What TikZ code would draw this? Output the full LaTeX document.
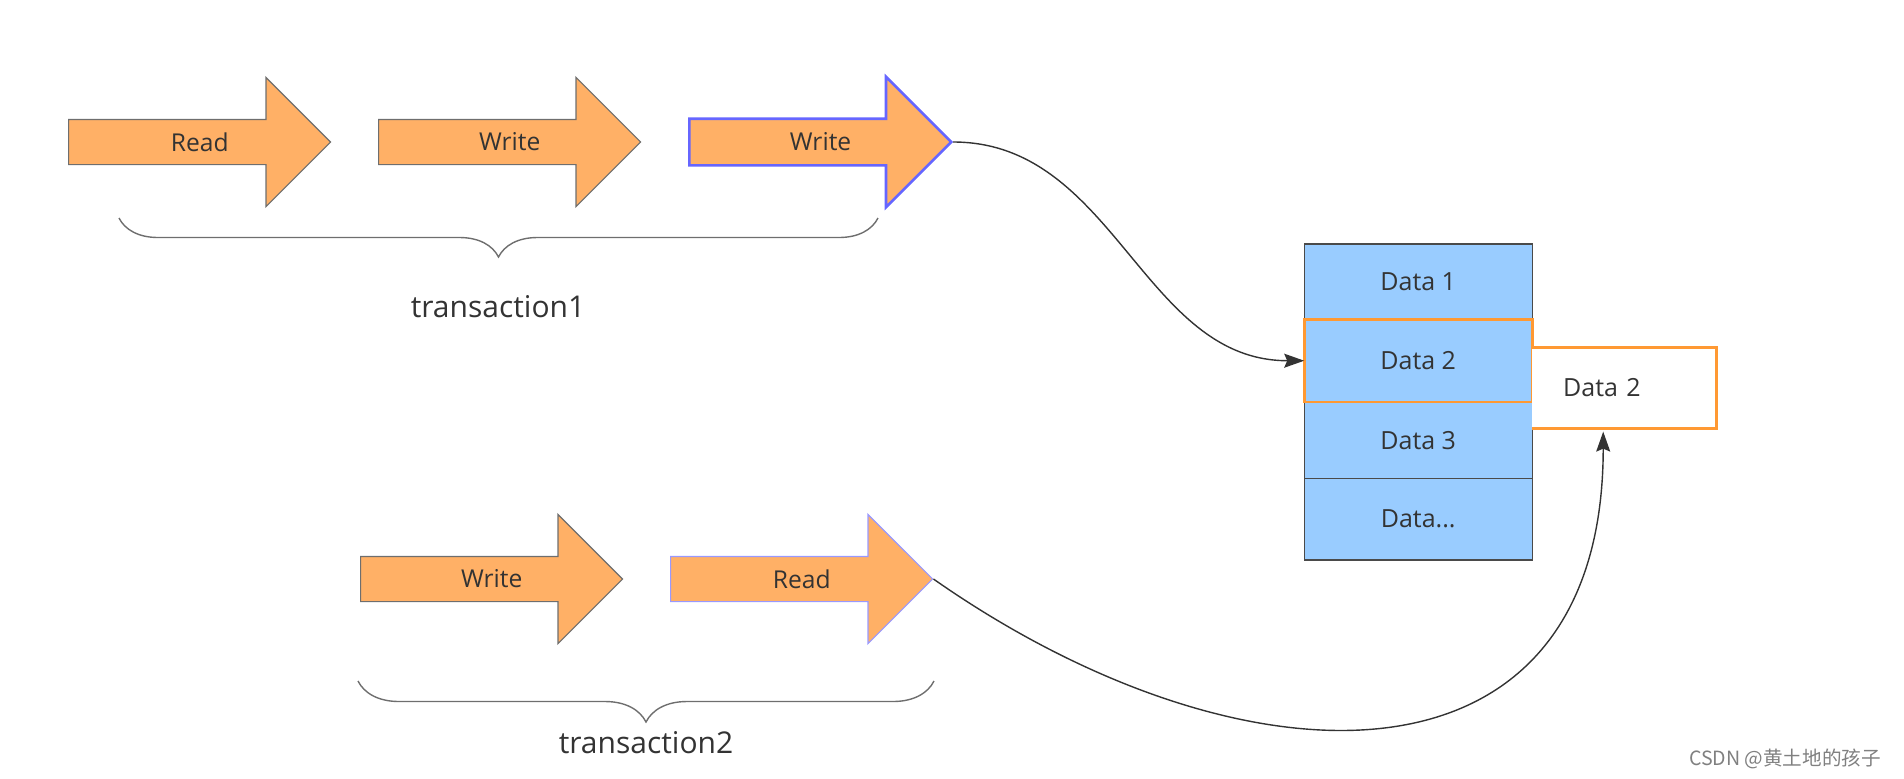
\documentclass[tikz,border=0pt]{standalone}
\usepackage{fontspec}
\setmainfont{Open Sans}
\newfontfamily\cjkfont{Noto Sans CJK SC}
\usetikzlibrary{shapes.arrows,arrows.meta,decorations.pathreplacing,positioning,calc}
\definecolor{stepfill}{HTML}{FFB066}
\definecolor{stepline}{HTML}{6E6E6E}
\definecolor{hiblue}{HTML}{6666FF}
\definecolor{lowblue}{HTML}{9999FF}
\definecolor{cellfill}{HTML}{99CCFF}
\definecolor{cellline}{HTML}{4A4A4A}
\definecolor{markorange}{HTML}{FF9933}
\definecolor{inkgray}{HTML}{333333}
\tikzset{
  opblock/.style={single arrow, single arrow head extend=21pt, single arrow tip angle=90,
    minimum height=131pt, inner xsep=0pt, inner ysep=0pt, text height=15pt, text depth=7pt,
    fill=stepfill, draw=stepline, line width=0.6pt, anchor=tail},
  oplabel/.style={text=inkgray, font=\fontsize{12.3}{14}\selectfont},
  databox/.style={rectangle, fill=cellfill, draw=cellline, line width=0.7pt, outer sep=0pt,
    minimum width=114pt, text=inkgray, font=\fontsize{12.5}{15}\selectfont},
  copybox/.style={rectangle, fill=white, outer sep=0pt, minimum height=40.6pt,
    text width=61pt, align=left, inner xsep=15.5pt, text=inkgray,
    font=\fontsize{12.5}{15}\selectfont},
  flow/.style={draw=inkgray, line width=0.7pt, -{Stealth[length=10pt,width=7pt,inset=1.5pt]}},
  txbrace/.style={draw=stepline, line width=0.7pt, decorate,
    decoration={brace,mirror,amplitude=#1}},
  txlabel/.style={text=inkgray, font=\fontsize{15}{18}\selectfont}
}
\begin{document}
\begin{tikzpicture}[x=0.5pt,y=-0.5pt]
  \useasboundingbox (0,0) rectangle (1904,778);
  % transaction 1
  \node[opblock] (rd1) at (68,142) {};
  \node[opblock] (wr1) at (378,142) {};
  \node[opblock, draw=hiblue, line width=1.3pt] (wr2) at (688,142) {};
  \node[oplabel] (rd1t) at ($(rd1.tail)!0.5!(rd1.tip)$) {Read};
  \node[oplabel] (wr1t) at ($(wr1.tail)!0.5!(wr1.tip)$) {Write};
  \node[oplabel] (wr2t) at ($(wr2.tail)!0.5!(wr2.tip)$) {Write};
  \draw[txbrace=19.5pt] (119,218) -- (878,218);
  \node[txlabel] (tx1) at (498,307) {transaction1};
  % transaction 2
  \node[opblock] (wr3) at (360,579) {};
  \node[opblock, draw=lowblue] (rd2) at (670,579) {};
  \node[oplabel] (wr3t) at ($(wr3.tail)!0.5!(wr3.tip)$) {Write};
  \node[oplabel] (rd2t) at ($(rd2.tail)!0.5!(rd2.tip)$) {Read};
  \draw[txbrace=20.5pt] (358,681) -- (934,681);
  \node[txlabel] (tx2) at (646,743) {transaction2};
  % data rows
  \node[databox, minimum height=37.7pt] (d1) at (1418.2,281.7) {Data 1};
  \node[databox, minimum height=41.3pt, below=0pt of d1] (d2) {Data 2};
  \node[databox, minimum height=38.2pt, below=0pt of d2] (d3) {Data 3};
  \node[databox, minimum height=40.7pt, below=0pt of d3] (d4) {Data...};
  \draw[markorange, line width=1.4pt] (d2.south west) rectangle (d2.north east);
  \node[copybox, right=0pt of d2, yshift=-13.65pt] (d2copy) {Data 2};
  \draw[markorange, line width=1.4pt] (d2copy.north west) -| (d2copy.south east) -- (d2copy.south west);
  % connectors
  \draw[flow] (wr2.tip) to[out=0,in=180] (d2.west);
  \draw[flow, shorten >=1.5pt] (rd2.tip) to[out=-35,in=-90,looseness=1.4] ([xshift=-10.5pt]d2copy.south);
  \node[anchor=east, text=gray, font=\cjkfont\fontsize{9.8}{12}\selectfont] (mark) at (1888,759) {CSDN @黄土地的孩子};
\end{tikzpicture}
\end{document}
